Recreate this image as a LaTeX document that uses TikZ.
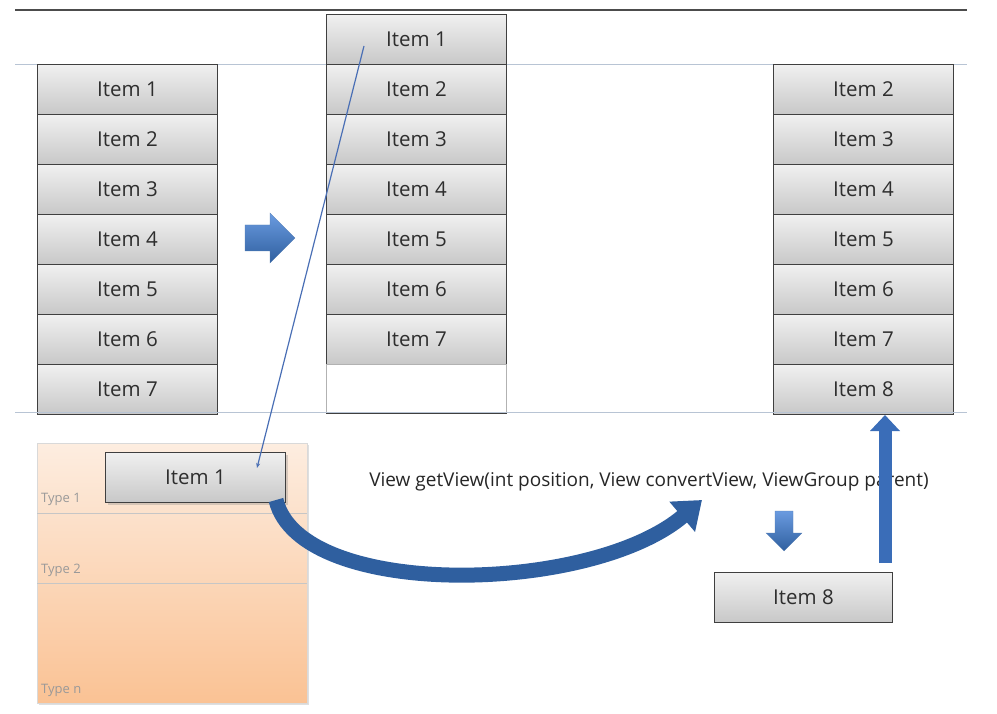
\documentclass[tikz,border=0pt]{standalone}
\usepackage{fontspec}
\setmainfont{Open Sans}
\usetikzlibrary{arrows.meta,shadows}
\definecolor{boxborder}{HTML}{3F3F3F}
\definecolor{boxtop}{HTML}{F0F0F0}
\definecolor{boxbot}{HTML}{C8C8C8}
\definecolor{arrowblue}{HTML}{3A6DB8}
\definecolor{darkblue}{HTML}{2F5F9F}
\definecolor{lightblue}{HTML}{6A9BE0}
\definecolor{thinblue}{HTML}{4A6FB5}
\definecolor{guide}{HTML}{B8C4D4}
\definecolor{peachtop}{HTML}{FDEDE0}
\definecolor{peachbot}{HTML}{FAC294}
\begin{document}
\begin{tikzpicture}[x=1pt,y=-1pt,
  item/.style={draw=boxborder, line width=1pt, top color=boxtop, bottom color=boxbot,
    minimum width=180pt, minimum height=50pt, inner sep=0pt, anchor=north west,
    font=\fontsize{20.5}{20.5}\selectfont, text=black!82},
  emptybox/.style={draw=gray!60, line width=0.8pt, fill=white,
    minimum width=180pt, minimum height=48pt, inner sep=0pt, anchor=north west},
  cachebox/.style={draw=gray!30, line width=0.6pt, top color=peachtop, bottom color=peachbot,
    minimum width=270pt, minimum height=260pt, inner sep=0pt, anchor=north west,
    drop shadow={opacity=0.25, shadow xshift=1.5pt, shadow yshift=-1.5pt}},
  typelabel/.style={font=\fontsize{13}{13}\selectfont, text=gray!80, anchor=west, inner sep=0pt},
  guideline/.style={draw=guide, line width=0.8pt},
  typeline/.style={draw=gray!45, line width=0.6pt},
  bigarrow/.style={draw=arrowblue, line width=13pt, -{Triangle[width=29pt,length=16pt]}},
  curvearrow/.style={draw=darkblue, line width=15pt, -{Triangle[width=38pt,length=26pt]}},
  pointer/.style={draw=thinblue, line width=1.2pt, -{Stealth[length=5pt,width=4pt]}}
]
\useasboundingbox (0,0) rectangle (997,714);

% horizontal rules
\draw[draw=black!70, line width=1.5pt] (15,10) -- (967,10);
\draw[guideline] (15,64) -- (967,64);

% left column
\foreach \i in {1,...,7} {
  \node[item] (L\i) at (37,{64+50*(\i-1)}) {Item \i};
}
% middle column
\node[item] (M1) at (326,14) {Item 1};
\foreach \i in {2,...,7} {
  \node[item] (M\i) at (326,{64+50*(\i-2)}) {Item \i};
}
\node[emptybox] (M0) at (326,364) {};
\draw[draw=boxborder, line width=1.4pt] (M0.south west) -- (M0.south east);
% right column
\foreach \i in {2,...,8} {
  \node[item] (R\i) at (773,{64+50*(\i-2)}) {Item \i};
}
\draw[guideline] (15,412) -- (967,412);

% right block arrow
\shade[top color=lightblue, bottom color=darkblue, draw=darkblue!80, line width=0.3pt]
  (245,225) -- (270,225) -- (270,213) -- (295,238) -- (270,263) -- (270,251) -- (245,251) -- cycle;

% cache box
\node[cachebox] (cache) at (37,443) {};
\draw[typeline] (37,513) -- (307,513);
\draw[typeline] (37,583) -- (307,583);
\node[typelabel] (t1) at (41,499) {Type 1};
\node[typelabel] (t2) at (41,570) {Type 2};
\node[typelabel] (tn) at (41,690) {Type n};

% recycled item
\node[item, drop shadow={opacity=0.3, shadow xshift=2pt, shadow yshift=-2pt}] (B1) at (105,452) {Item 1};

% pointer line
\coordinate (p1) at (364,46);
\coordinate (p2) at (257,468);
\draw[pointer] (p1) -- (p2);

% getView text
\node[font=\fontsize{19}{19}\selectfont, text=black!85, inner sep=0pt] (gv) at (649,482)
  {View getView(int position, View convertView, ViewGroup parent)};

% curved arrow
\coordinate (cs) at (276,500);
\coordinate (ce) at (702,500);
\draw[curvearrow] (cs) .. controls (300,600) and (590,595) .. (ce);

% new item
\node[item, minimum width=178pt] (B8) at (714,572) {Item 8};

% down block arrow
\shade[top color=lightblue, bottom color=darkblue, draw=darkblue!80, line width=0.3pt]
  (775,511) -- (793,511) -- (793,533) -- (802,533) -- (784,551) -- (766,533) -- (775,533) -- cycle;

% up arrow
\coordinate (ub) at (885,563);
\draw[bigarrow] (ub) -- (ub |- R8.south);
\end{tikzpicture}
\end{document}
